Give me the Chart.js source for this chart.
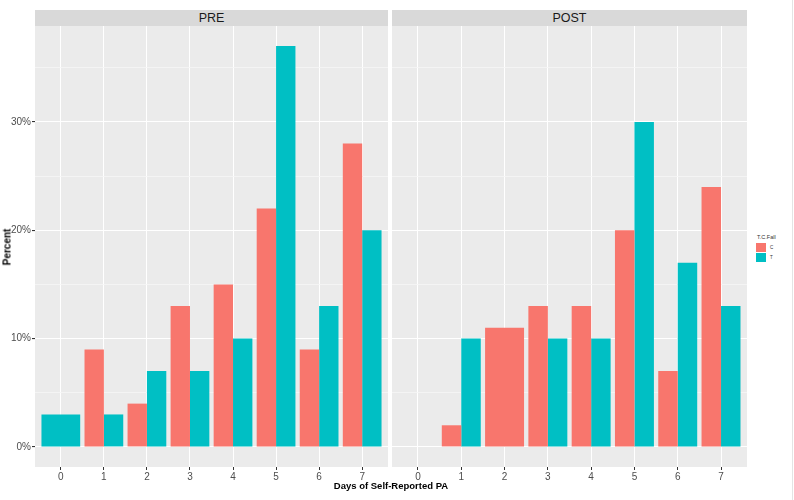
<!DOCTYPE html>
<html><head><meta charset="utf-8">
<script src="https://cdn.jsdelivr.net/npm/chart.js@4.4.1/dist/chart.umd.min.js"></script>
<style>
body{margin:0;width:794px;height:500px;background:#fff;position:relative;overflow:hidden;font-family:"Liberation Sans",Arial,sans-serif}
.strip{position:absolute;top:10px;height:16.5px;background:#D9D9D9;color:#1A1A1A;font-size:12.5px;line-height:17px;text-align:center}
canvas{position:absolute;top:0;left:0}
.abs{position:absolute}
</style></head><body>
<div class="strip" style="left:35px;width:353px">PRE</div>
<div class="strip" style="left:392px;width:355px">POST</div>
<div class="abs" style="left:0;top:26px;width:390px;height:474px"><canvas id="c1" width="390" height="474"></canvas></div>
<div class="abs" style="left:390px;top:26px;width:360px;height:474px"><canvas id="c2" width="360" height="474"></canvas></div>
<div class="abs" style="left:0;top:480px;width:794px;font-weight:bold;font-size:9.5px;color:#000"><span style="position:absolute;left:391px;transform:translateX(-50%);white-space:nowrap">Days of Self-Reported PA</span></div>
<div class="abs" style="left:7px;top:247px;transform:translate(-50%,-50%) rotate(-90deg);font-weight:bold;font-size:10px;color:#000;white-space:nowrap">Percent</div>
<div class="abs" style="left:757px;top:234px;font-size:5.5px;color:#333;white-space:nowrap">T.C.Fall</div>
<div class="abs" style="left:756px;top:243px;width:10px;height:9px;background:#F8766D"></div>
<div class="abs" style="left:756px;top:253px;width:10px;height:9px;background:#00BFC4"></div>
<div class="abs" style="left:770px;top:245px;font-size:4.5px;color:#333">C</div>
<div class="abs" style="left:770px;top:255px;font-size:4.5px;color:#333">T</div>
<div class="abs" style="left:792px;top:0;width:1px;height:500px;background:#E4E4E4"></div>
<script>
const days = [0, 1, 2, 3, 4, 5, 6, 7];
const yTicks = [0, 5, 10, 15, 20, 25, 30, 35];
const preC  = [null, 9, 4, 13, 15, 22, 9, 28];
const preT  = [3, 3, 7, 7, 10, 37, 13, 20];
const postC = [null, 2, 11, 13, 13, 20, 7, 24];
const postT = [null, 10, null, 10, 10, 30, 17, 13];
const groups = ['C', 'T'];
const colors = ['#F8766D', '#00BFC4'];

function pts(arr){ return days.map((d,i)=>({x:d, y:arr[i]})); }

const bgPlugin = {
  id:'panelBg',
  beforeDraw(chart){
    const a = chart.chartArea, ctx = chart.ctx;
    ctx.save(); ctx.fillStyle = '#EBEBEB';
    ctx.fillRect(a.left, a.top, a.right - a.left, a.bottom - a.top);
    ctx.restore();
  }
};

function zeroPad(s){ s.paddingTop = 0; s.paddingBottom = 0; s.paddingLeft = 0; s.paddingRight = 0; }

function makeChart(id, cVals, tVals, showY, yWidth, padRight){
  return new Chart(document.getElementById(id), {
    type:'bar',
    data:{ datasets:[
      {label:groups[0], data:pts(cVals), backgroundColor:colors[0], borderWidth:0, skipNull:true},
      {label:groups[1], data:pts(tVals), backgroundColor:colors[1], borderWidth:0, skipNull:true}
    ]},
    plugins:[bgPlugin],
    options:{
      responsive:false, animation:false,
      layout:{padding:{left:0, right:padRight, top:0, bottom:0}},
      datasets:{bar:{categoryPercentage:0.9, barPercentage:1.0, skipNull:true}},
      plugins:{legend:{display:false}, tooltip:{enabled:false}, title:{display:false}},
      scales:{
        x:{
          type:'linear', offset:false, min:-0.6, max:7.6,
          afterBuildTicks(s){ s.ticks = days.map(v=>({value:v})); },
          afterFit(s){ s.height = 33; zeroPad(s); },
          grid:{color:'#FFFFFF', lineWidth:1, offset:false, tickLength:3, tickColor:'#333333', tickWidth:1},
          border:{display:false},
          ticks:{autoSkip:false, maxRotation:0, padding:1, color:'#4D4D4D',
                 font:{family:'Liberation Sans', size:10}, callback:v=>String(v)}
        },
        y:{
          type:'linear', min:-1.85, max:38.85,
          afterBuildTicks(s){ s.ticks = yTicks.map(v=>({value:v})); },
          afterFit(s){ s.width = yWidth; zeroPad(s); },
          grid:{
            color:ctx=> (ctx.tick && ctx.tick.value % 10 === 0) ? '#FFFFFF' : '#F6F6F6',
            lineWidth:ctx=> (ctx.tick && ctx.tick.value % 10 === 0) ? 1.1 : 0.8,
            drawTicks:showY, tickLength:3,
            tickColor:ctx=> (ctx.tick && ctx.tick.value % 10 === 0) ? '#333333' : 'rgba(0,0,0,0)'
          },
          border:{display:false},
          ticks:{display:showY, padding:1, color:'#4D4D4D',
                 font:{family:'Liberation Sans', size:10},
                 callback:v=> (v % 10 === 0) ? v + '%' : ''}
        }
      }
    }
  });
}

makeChart('c1', preC, preT, true, 35, 2);
makeChart('c2', postC, postT, false, 2, 3);
</script>
</body></html>
